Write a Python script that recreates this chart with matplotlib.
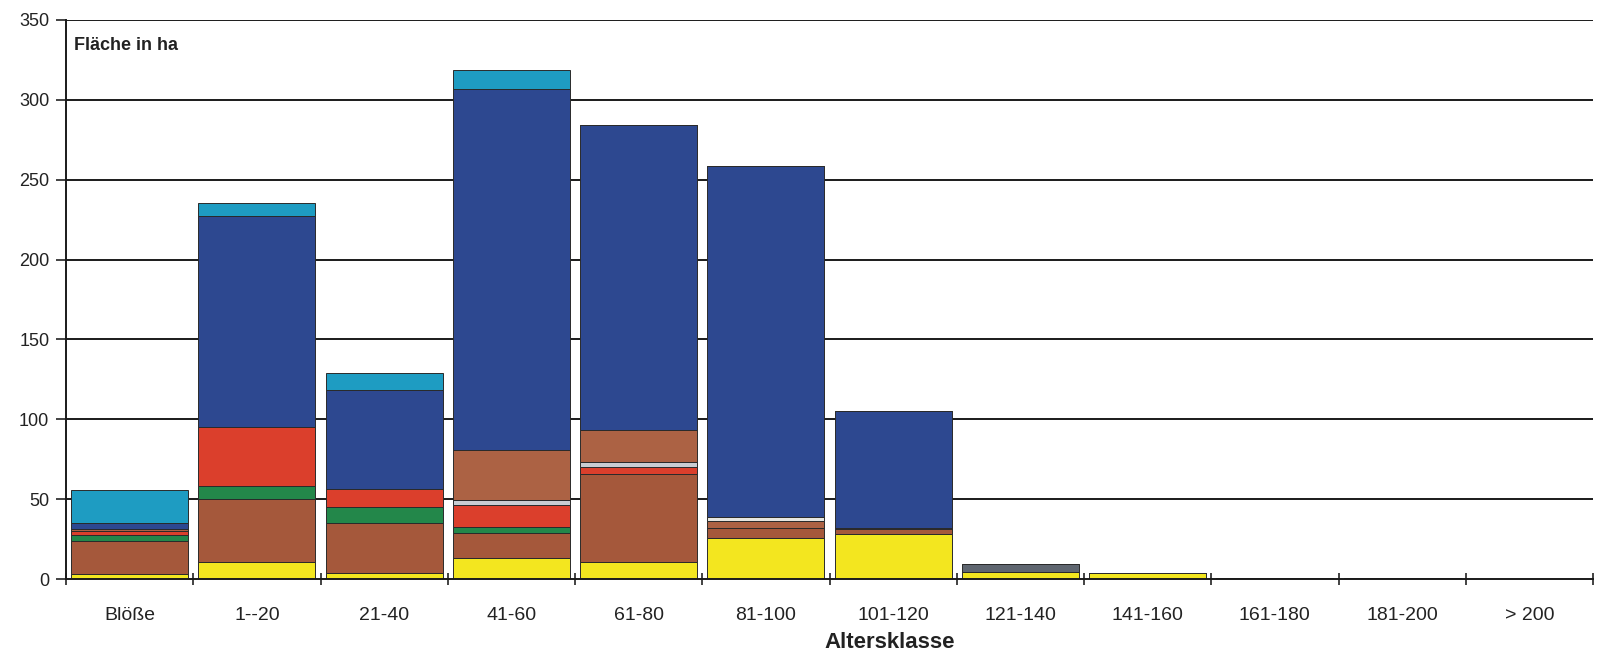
import matplotlib
matplotlib.use("Agg")
import matplotlib.pyplot as plt
import numpy as np

plt.rcParams['font.family'] = ['Liberation Sans', 'DejaVu Sans']

categories = ["Blöße", "1--20", "21-40", "41-60", "61-80", "81-100", "101-120",
              "121-140", "141-160", "161-180", "181-200", "> 200"]

# stacked series, bottom to top
gelb       = [3.0, 10.8, 3.9, 13.3, 10.8, 25.8, 28.1, 4.6, 3.9, 0.7, 0.6, 0]
braun      = [21.0, 39.0, 31.3, 15.3, 55.2, 5.9, 2.9, 0, 0, 0, 0, 0]
gruen      = [3.5, 8.3, 10.0, 4.1, 0, 0, 0, 0, 0, 0, 0, 0]
rot        = [2.5, 37.1, 11.2, 13.5, 4.0, 0, 0, 0, 0, 0, 0, 0]
hellgrau   = [0, 0, 0, 3.2, 3.5, 0, 0, 0, 0, 0, 0, 0]
hellbraun  = [1.0, 0, 0, 31.6, 19.5, 4.7, 1.0, 0, 0, 0, 0, 0]
weiss      = [0, 0, 0, 0, 0, 2.6, 0, 0, 0, 0, 0, 0]
dunkelblau = [4.0, 132.3, 61.7, 226.0, 191.2, 219.5, 73.2, 0, 0, 0, 0, 0]
dunkelgrau = [0, 0, 0, 0, 0, 0, 0, 4.8, 0, 0, 0, 0]
tuerkis    = [20.5, 8.1, 11.1, 12.0, 0, 0, 0, 0, 0, 0, 0, 0]

series = [gelb, braun, gruen, rot, hellgrau, hellbraun, weiss, dunkelblau, dunkelgrau, tuerkis]
colors = ["#F3E61F", "#A5583B", "#23874A", "#DB3F2C", "#C9CDD2", "#AC6244",
          "#E6E6E0", "#2D4890", "#5F6670", "#1E9CC2"]

yticks = [0, 50, 100, 150, 200, 250, 300, 350]

fig = plt.figure(figsize=(16.04, 6.59), dpi=100)
ax = fig.add_axes([66/1604, 1-579/659, (1593-66)/1604, (579-20)/659])

x = np.arange(len(categories))
bottom = np.zeros(len(categories))
for vals, col in zip(series, colors):
    v = np.array(vals, dtype=float)
    ax.bar(x, v, bottom=bottom, width=0.92, color=col, edgecolor="#2a2a2a",
           linewidth=0.7, zorder=3)
    bottom += v

ax.set_xlim(-0.5, len(categories) - 0.5)
ax.set_ylim(0, 350)

for yv in yticks[1:]:
    ax.axhline(yv, color="#1a1a1a", linewidth=1.4, zorder=1)

ax.set_yticks(yticks)
ax.set_yticklabels([str(t) for t in yticks], fontsize=13, color="#222")
ax.tick_params(axis='y', direction='out', length=7, width=1.2, pad=5, colors="#222")

ax.set_xticks(np.arange(len(categories) + 1) - 0.5)
ax.set_xticklabels([])
ax.tick_params(axis='x', which='major', direction='inout', length=8, width=1.2, colors="#222")
ax.set_xticks(x, minor=True)
ax.set_xticklabels(categories, minor=True, fontsize=14, color="#222")
ax.tick_params(axis='x', which='minor', length=0, pad=20)

for s in ['top', 'right']:
    ax.spines[s].set_visible(False)
for s in ['left', 'bottom']:
    ax.spines[s].set_color("#1a1a1a")
    ax.spines[s].set_linewidth(1.4)
    ax.spines[s].set_zorder(4)

ax.text(0.005, 0.955, "Fläche in ha", transform=ax.transAxes, fontsize=13,
        fontweight='bold', color="#222", ha='left', va='center')

fig.text(889.5/1604, 1-642/659, "Altersklasse", fontsize=16, fontweight='bold',
         color="#222", ha='center', va='center')

fig.savefig("out.png", dpi=100, facecolor="white")
